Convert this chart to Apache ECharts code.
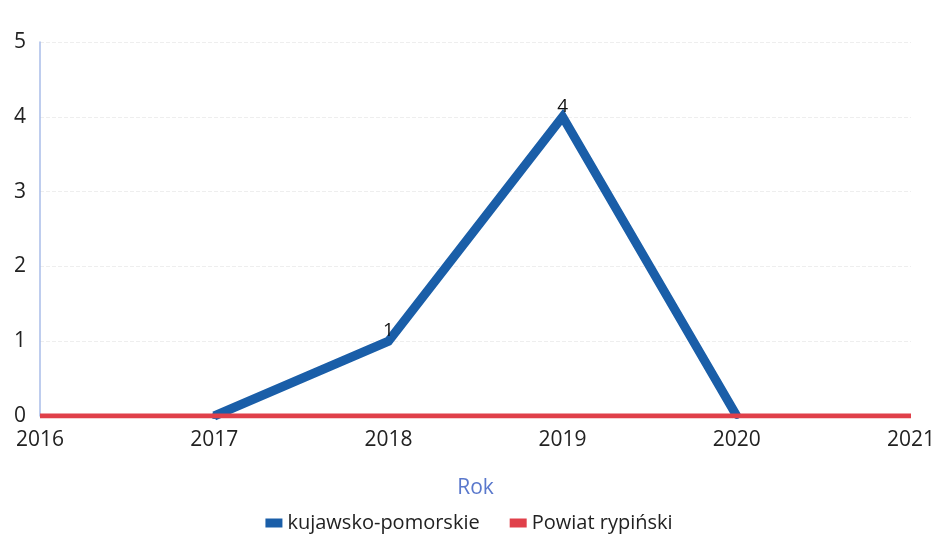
<!DOCTYPE html>
<html>
<head>
<meta charset="utf-8">
<script src="https://cdn.jsdelivr.net/npm/echarts@6/dist/echarts.min.js"></script>
<style>
  html, body { margin: 0; padding: 0; background: #fff; }
  #main { width: 938px; height: 544px; }
</style>
</head>
<body>
<div id="main"></div>
<script>
// dane
var years = ['2016', '2017', '2018', '2019', '2020', '2021'];
var kujawskoPomorskie = [null, 0, 1, 4, 0, null];
var powiatRypinski = [0, 0, 0, 0, 0, 0];

var myChart = echarts.init(document.getElementById('main'));
var option = {
    animation: false,
    backgroundColor: '#fff',
    textStyle: { fontFamily: '"Open Sans", "Noto Sans", sans-serif' },
    grid: {
        left: 40,
        right: 23,
        top: 42,
        bottom: 128,
        containLabel: false
    },
    legend: {
        bottom: 6,
        left: 'center',
        itemWidth: 17,
        itemHeight: 9,
        itemGap: 30,
        icon: 'rect',
        textStyle: { fontSize: 20, color: '#222' },
        data: ['kujawsko-pomorskie', 'Powiat rypiński']
    },
    xAxis: {
        type: 'category',
        boundaryGap: false,
        data: years,
        name: 'Rok',
        nameLocation: 'middle',
        nameGap: 62,
        nameTextStyle: { fontSize: 21, color: '#5a78cc' },
        axisLine: { show: false },
        axisTick: { show: false },
        axisLabel: { fontSize: 21, color: '#222', margin: 14 }
    },
    yAxis: {
        type: 'value',
        min: 0,
        max: 5,
        interval: 1,
        axisLine: { show: true, lineStyle: { color: '#a9bde9', width: 1.5 } },
        axisTick: { show: false },
        axisLabel: { fontSize: 21, color: '#222', margin: 14 },
        splitLine: { show: true, lineStyle: { color: '#eeeeee', type: 'dashed', width: 1 } }
    },
    series: [
        {
            name: 'kujawsko-pomorskie',
            type: 'line',
            data: kujawskoPomorskie,
            color: '#1a5ea8',
            symbol: 'circle',
            symbolSize: 6,
            showSymbol: true,
            itemStyle: { color: '#1a5ea8' },
            lineStyle: { width: 9, color: '#1a5ea8', join: 'miter' },
            label: {
                show: true,
                position: 'top',
                distance: -2,
                fontSize: 19,
                color: '#111',
                formatter: function (p) { return p.value > 0 ? p.value : ''; }
            },
            z: 2
        },
        {
            name: 'Powiat rypiński',
            type: 'line',
            data: powiatRypinski,
            color: '#e0404a',
            symbol: 'none',
            lineStyle: { width: 5, color: '#e0404a' },
            z: 3
        }
    ]
};
myChart.setOption(option);
</script>
</body>
</html>
